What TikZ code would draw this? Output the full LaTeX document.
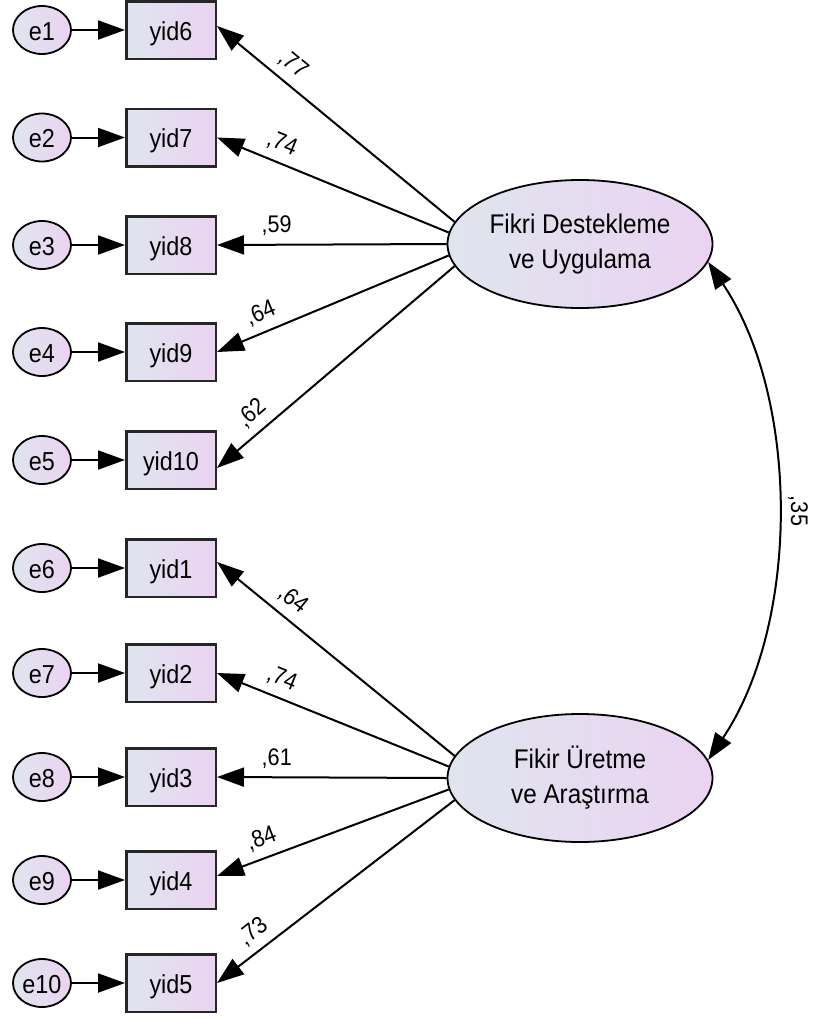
\documentclass[tikz,border=0pt]{standalone}
\usepackage{fontspec}
\setmainfont[FakeStretch=0.9]{Liberation Sans}
\usetikzlibrary{arrows.meta,shapes.geometric}
\definecolor{fillL}{HTML}{DFE5EE}
\definecolor{fillR}{HTML}{EBD3F1}
\definecolor{edgec}{HTML}{262626}
\begin{document}
\begin{tikzpicture}[x=1pt,y=-1pt,
  obs/.style={draw=edgec, line width=2.5pt, left color=fillL, right color=fillR,
    minimum width=89.5pt, minimum height=57.5pt, inner sep=0pt,
    text height=20pt, text depth=0pt, font=\fontsize{26}{30}\selectfont},
  err/.style={ellipse, draw=black, line width=1.8pt, left color=fillL, right color=fillR,
    minimum width=58pt, minimum height=48pt, inner sep=0pt,
    text height=20pt, text depth=0pt, font=\fontsize{26}{30}\selectfont},
  lat/.style={ellipse, draw=black, line width=1.8pt, left color=fillL, right color=fillR,
    minimum width=265pt, minimum height=128pt, inner sep=0pt, align=center,
    font=\fontsize{27}{35}\selectfont},
  arr/.style={-{Triangle[length=27pt,width=19pt]}, line width=2pt},
  dbl/.style={{Triangle[length=27pt,width=19pt]}-{Triangle[length=27pt,width=19pt]}, line width=2pt},
  coef/.style={sloped, above=8pt, inner sep=0pt, font=\fontsize{24}{28}\selectfont}]
\useasboundingbox (0,0) rectangle (812,1018);

% latent variables
\node[lat] (L1) at (580,244) {Fikri Destekleme\\ve Uygulama};
\node[lat] (L2) at (580,778) {Fikir Üretme\\ve Araştırma};

% observed variables
\node[obs] (y6)  at (171,30)  {yid6};
\node[obs] (y7)  at (171,137.5) {yid7};
\node[obs] (y8)  at (171,245) {yid8};
\node[obs] (y9)  at (171,352) {yid9};
\node[obs] (y10) at (171,460) {yid10};
\node[obs] (y1)  at (171,568) {yid1};
\node[obs] (y2)  at (171,673) {yid2};
\node[obs] (y3)  at (171,777) {yid3};
\node[obs] (y4)  at (171,880) {yid4};
\node[obs] (y5)  at (171,983) {yid5};

% error terms
\node[err] (e1)  at (42,30)  {e1};
\node[err] (e2)  at (42,137.5) {e2};
\node[err] (e3)  at (42,245) {e3};
\node[err] (e4)  at (42,352) {e4};
\node[err] (e5)  at (42,460) {e5};
\node[err] (e6)  at (42,568) {e6};
\node[err] (e7)  at (42,673) {e7};
\node[err] (e8)  at (42,777) {e8};
\node[err] (e9)  at (42,880) {e9};
\node[err] (e10) at (42,983) {e10};

% error arrows
\foreach \e/\y in {e1/y6,e2/y7,e3/y8,e4/y9,e5/y10,e6/y1,e7/y2,e8/y3,e9/y4,e10/y5}
  \draw[arr] (\e.east) -- (\y.west);

% loadings, factor 1
\draw[arr] (L1.170) -- node[coef,pos=0.73] {,77} ([yshift=4pt]y6.east);
\draw[arr] (L1.175) -- node[coef,pos=0.75] {,74} (y7.east);
\draw[arr] (L1.180) -- node[coef,pos=0.74] {,59} (y8.east);
\draw[arr] (L1.185) -- node[coef,pos=0.78] {,64} (y9.east);
\draw[arr] (L1.190) -- node[coef,pos=0.80] {,62} ([yshift=-8pt]y10.east);

% loadings, factor 2
\draw[arr] (L2.170) -- node[coef,pos=0.73] {,64} ([yshift=6pt]y1.east);
\draw[arr] (L2.175) -- node[coef,pos=0.75] {,74} (y2.east);
\draw[arr] (L2.180) -- node[coef,pos=0.74] {,61} (y3.east);
\draw[arr] (L2.185) -- node[coef,pos=0.78] {,84} ([yshift=4pt]y4.east);
\draw[arr] (L2.190) -- node[coef,pos=0.80] {,73} (y5.east);

% covariance
\draw[dbl] (L1.-8) .. controls +(92,137) and +(92,-137) .. (L2.8)
  node[pos=0.5, rotate=-90, anchor=south, inner sep=10pt, font=\fontsize{24}{28}\selectfont] {,35};
\end{tikzpicture}
\end{document}
